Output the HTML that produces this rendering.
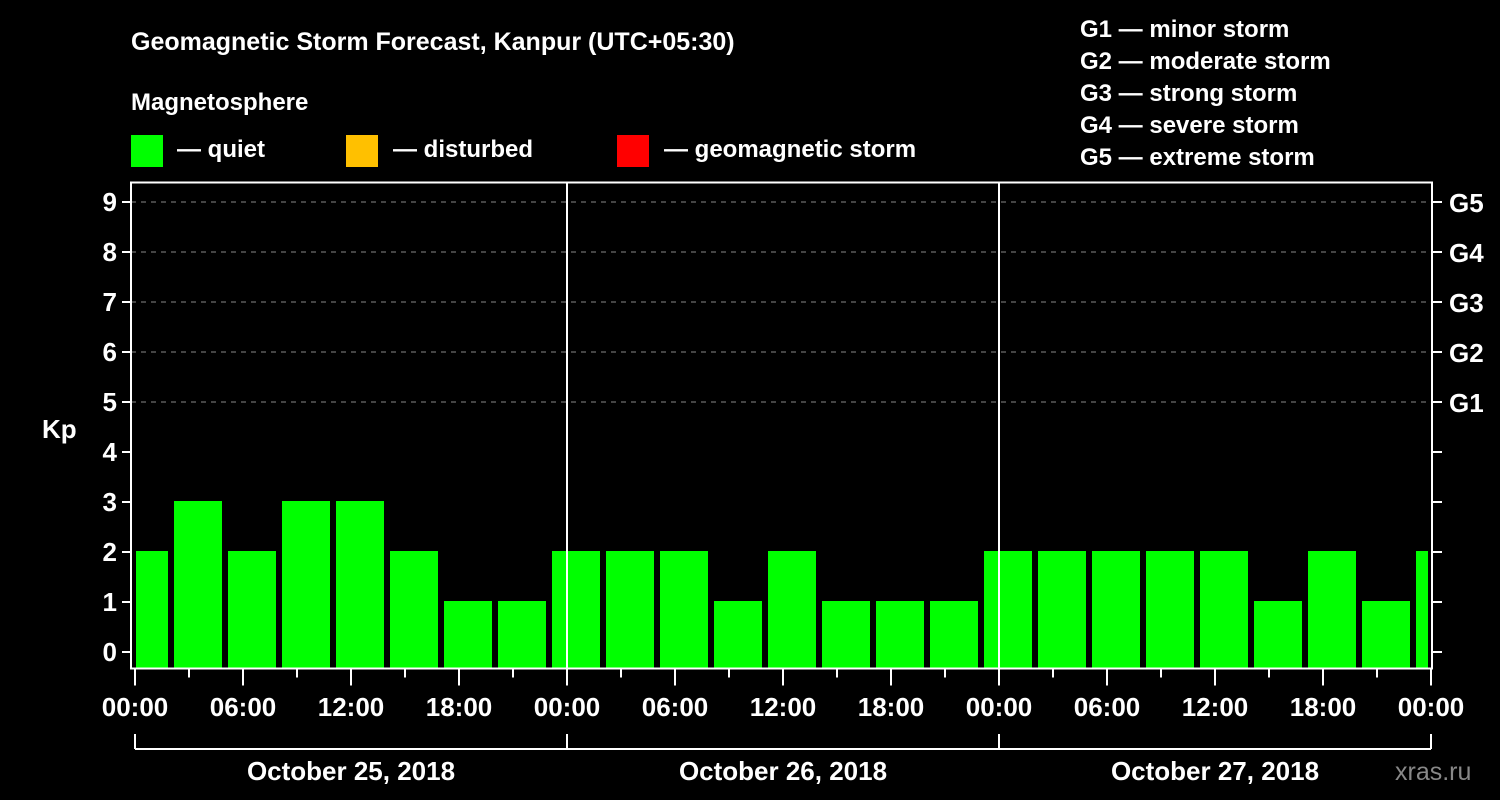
<!DOCTYPE html>
<html><head><meta charset="utf-8"><style>
html,body{margin:0;padding:0;background:#000;}
svg{display:block;font-family:"Liberation Sans",Arial,sans-serif;font-weight:bold;}
</style></head><body>
<svg id="chart" width="1500" height="800" viewBox="0 0 1500 800">
<rect width="1500" height="800" fill="#000"/>
<text x="131" y="50" fill="#fff" font-size="25">Geomagnetic Storm Forecast, Kanpur (UTC+05:30)</text>
<text x="131" y="110" fill="#fff" font-size="24">Magnetosphere</text>
<g><rect x="131" y="135" width="32" height="32" fill="#00ff00"/><text x="177" y="157" fill="#fff" font-size="24">— quiet</text></g>
<g><rect x="346" y="135" width="32" height="32" fill="#ffc000"/><text x="393" y="157" fill="#fff" font-size="24">— disturbed</text></g>
<g><rect x="617" y="135" width="32" height="32" fill="#ff0000"/><text x="664" y="157" fill="#fff" font-size="24">— geomagnetic storm</text></g>
<g fill="#fff" font-size="24">
<text x="1080" y="37">G1 — minor storm</text>
<text x="1080" y="69">G2 — moderate storm</text>
<text x="1080" y="101">G3 — strong storm</text>
<text x="1080" y="133">G4 — severe storm</text>
<text x="1080" y="165">G5 — extreme storm</text>
</g>
<text x="42" y="438" fill="#fff" font-size="26">Kp</text>
<text x="1395" y="780" fill="#888" font-size="25" font-weight="normal">xras.ru</text>
<g id="grid"></g>
<g id="bars"></g>
<g id="axes"></g>
</svg>
<script>
const kpValues = [2,3,2,3,3,2,1,1,2,2,2,1,2,1,1,1,2,2,2,2,2,1,2,1,2];
const firstBarStartHour = -1;
const hoursPerBar = 3;
const dayLabels = ["October 25, 2018","October 26, 2018","October 27, 2018"];
const timeTicks = ["00:00","06:00","12:00","18:00"];
const gLabels = ["G1","G2","G3","G4","G5"];

const NS="http://www.w3.org/2000/svg";
const X0=135, PXH=18, Y0=652, PXK=50, TOP=182.5, BOT=668.5, LEFT=131, RIGHT=1432;
const totalHours=dayLabels.length*24;
const xs=h=>X0+h*PXH;
const ys=k=>Y0-k*PXK;
function mk(tag,attrs,parent){const e=document.createElementNS(NS,tag);for(const k in attrs)e.setAttribute(k,attrs[k]);parent.appendChild(e);return e;}
const grid=document.getElementById('grid'),bars=document.getElementById('bars'),axes=document.getElementById('axes');

for(let k=5;k<=9;k++){
  const l=mk('line',{x1:LEFT,x2:RIGHT,y1:ys(k),y2:ys(k),stroke:'#888','stroke-width':1,'stroke-dasharray':'5,5'},grid);
  
  
}
kpValues.forEach((v,i)=>{
  const h0=firstBarStartHour+i*hoursPerBar;
  let x1=xs(h0)+3, x2=xs(h0+hoursPerBar)-3;
  x1=Math.max(x1,X0+1); x2=Math.min(x2,xs(totalHours)-3);
  const col=v>=5?'#ff0000':(v>=4?'#ffc000':'#00ff00');
  const r=mk('rect',{x:x1,y:ys(v)-1,width:x2-x1,height:BOT-ys(v)+1,fill:col},bars);
  
  
});
const frame=mk('rect',{x:LEFT,y:TOP,width:RIGHT-LEFT,height:BOT-TOP,fill:'none',stroke:'#fff','stroke-width':2},axes);


for(let d=1;d<dayLabels.length;d++){
  const l=mk('line',{x1:xs(d*24),x2:xs(d*24),y1:TOP,y2:BOT,stroke:'#fff','stroke-width':2},axes);
  
  
}
for(let k=0;k<=9;k++){
  mk('line',{x1:LEFT-9,x2:LEFT,y1:ys(k),y2:ys(k),stroke:'#fff','stroke-width':2},axes);
  mk('line',{x1:RIGHT,x2:RIGHT+10,y1:ys(k),y2:ys(k),stroke:'#fff','stroke-width':2},axes);
  const t=mk('text',{x:LEFT-14,y:ys(k)+9,fill:'#fff','font-size':26,'text-anchor':'end'},axes);
  t.textContent=k;
  
  
}
gLabels.forEach((g,i)=>{
  const t=mk('text',{x:RIGHT+17,y:ys(5+i)+10,fill:'#fff','font-size':26},axes);
  t.textContent=g;
  
  
});
for(let h=0;h<=totalHours;h+=3){
  const major=h%6===0;
  mk('line',{x1:xs(h),x2:xs(h),y1:BOT,y2:BOT+(major?17:9),stroke:'#fff','stroke-width':2},axes);
  if(major){
    const t=mk('text',{x:xs(h),y:716,fill:'#fff','font-size':26,'text-anchor':'middle'},axes);
    t.textContent=timeTicks[(h%24)/6];
    
    
  }
}
const br=mk('line',{x1:xs(0),x2:xs(totalHours),y1:749,y2:749,stroke:'#fff','stroke-width':2},axes);


for(let d=0;d<=dayLabels.length;d++){
  mk('line',{x1:xs(d*24),x2:xs(d*24),y1:734,y2:749,stroke:'#fff','stroke-width':2},axes);
}
dayLabels.forEach((s,d)=>{
  const t=mk('text',{x:xs(d*24+12),y:780,fill:'#fff','font-size':26,'text-anchor':'middle'},axes);
  t.textContent=s;
  
  
});
</script>
</body></html>
